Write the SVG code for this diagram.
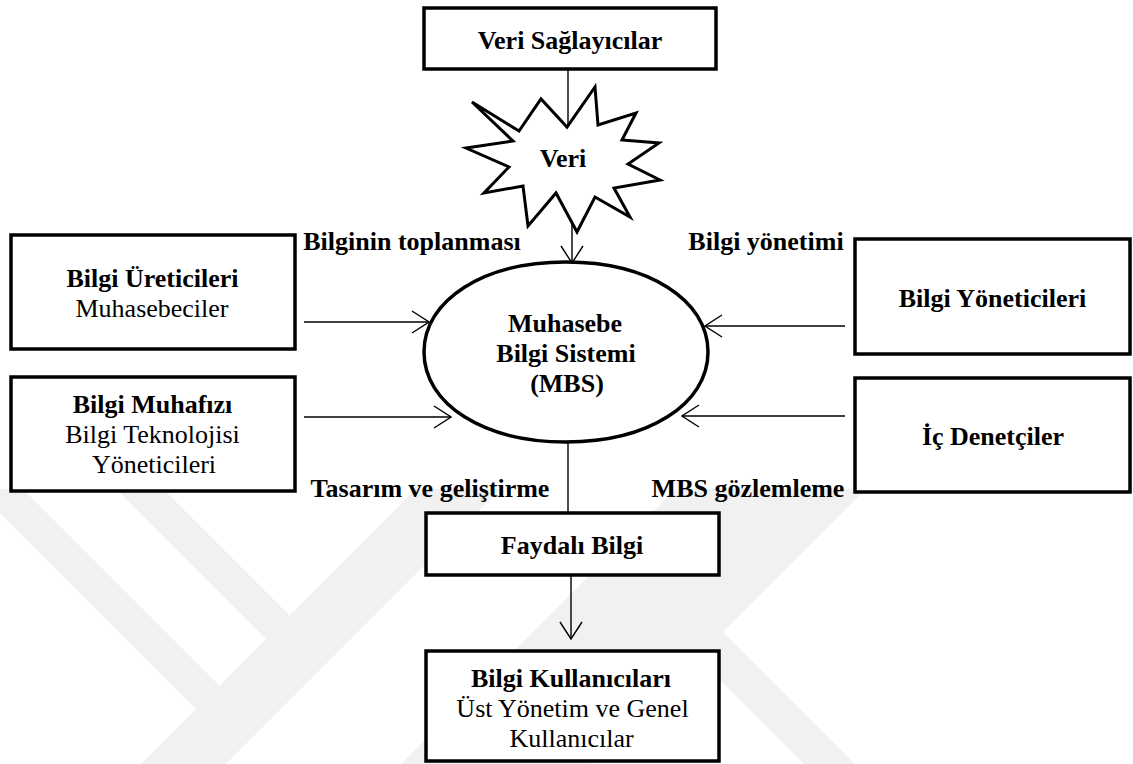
<svg xmlns="http://www.w3.org/2000/svg" width="1133" height="764" viewBox="0 0 1133 764">
  <defs>
    <style>
      .box { fill: #ffffff; stroke: #000000; stroke-width: 3.5; }
      .wire { fill: none; stroke: #000000; stroke-width: 1.4; }
      text { font-family: 'Liberation Serif', 'DejaVu Serif', serif; font-size: 26px; fill: #000000; text-anchor: middle; }
      .b { font-weight: bold; }
      .mark { fill: #f1f1f1; }
    </style>
    <marker id="vee" viewBox="-1 -12 19 24" refX="17" refY="0" markerWidth="19" markerHeight="24" markerUnits="userSpaceOnUse" orient="auto">
      <path d="M0,-11 L17,0 L0,11" fill="none" stroke="#000000" stroke-width="1.4"/>
    </marker>
    <clipPath id="lowerHalf">
      <rect x="0" y="489" width="1133" height="275"/>
    </clipPath>
  </defs>

  <rect x="0" y="0" width="1133" height="764" fill="#ffffff"/>

  <!-- faint background emblem -->
  <g id="emblem" clip-path="url(#lowerHalf)">
    <polygon class="mark" points="-30,436 241,707 217.5,730.5 -30,483"/>
    <polygon class="mark" points="100,426 311,637 287.5,660.5 100,473"/>
    <polygon class="mark" points="425,480 510,480 220,770 135,770"/>
    <polygon class="mark" points="685,480 875,480 585,770 395,770"/>
    <polygon class="mark" points="660,569 870,779 819,779 640,600"/>
  </g>

  <!-- connectors -->
  <g id="connectors">
    <line class="wire" x1="568" y1="70" x2="568" y2="140"/>
    <line class="wire" x1="572" y1="195" x2="572" y2="263" marker-end="url(#vee)"/>
    <line class="wire" x1="304" y1="322" x2="429" y2="322" marker-end="url(#vee)"/>
    <line class="wire" x1="304" y1="417" x2="451" y2="417" marker-end="url(#vee)"/>
    <line class="wire" x1="845" y1="326" x2="705" y2="326" marker-end="url(#vee)"/>
    <line class="wire" x1="845" y1="416" x2="682" y2="416" marker-end="url(#vee)"/>
    <line class="wire" x1="568" y1="440" x2="568" y2="513"/>
    <line class="wire" x1="571" y1="575" x2="571" y2="639" marker-end="url(#vee)"/>
  </g>

  <!-- edge labels -->
  <g id="labels">
    <text class="b" x="412" y="250">Bilginin toplanması</text>
    <text class="b" x="766" y="250">Bilgi yönetimi</text>
    <text class="b" x="430" y="497">Tasarım ve geliştirme</text>
    <text class="b" x="748" y="497">MBS gözlemleme</text>
  </g>

  <g id="veri-saglayicilar">
    <rect class="box" x="424" y="8" width="292" height="61"/>
    <text class="b" x="570" y="49">Veri Sağlayıcılar</text>
  </g>

  <g id="veri">
    <polygon fill="#ffffff" stroke="#000000" stroke-width="3" stroke-linejoin="miter"
      points="472,102 519,131 541,99 567,127 595,87 598,125 636,113 622,140 659,143 628,164 660,180 614,188 630,217 595,197 577,232 556,193 528,226 523,186 484,193 509,167 466,148 513,141"/>
    <text class="b" x="563" y="167">Veri</text>
  </g>

  <g id="bilgi-ureticileri">
    <rect class="box" x="11" y="235" width="284" height="114"/>
    <text class="b" x="152.5" y="287">Bilgi Üreticileri</text>
    <text x="152" y="317">Muhasebeciler</text>
  </g>

  <g id="bilgi-muhafizi">
    <rect class="box" x="11" y="377" width="284" height="114"/>
    <text class="b" x="152.5" y="413">Bilgi Muhafızı</text>
    <text x="152.5" y="443">Bilgi Teknolojisi</text>
    <text x="154" y="473">Yöneticileri</text>
  </g>

  <g id="mbs">
    <path fill="#ffffff" stroke="#000000" stroke-width="3.5"
      d="M424,352 C424,299.8 483.6,262 566,262 C648.4,262 708,299.8 708,352 C708,404.2 648.4,442 566,442 C483.6,442 424,404.2 424,352 Z"/>
    <text class="b" x="565" y="332">Muhasebe</text>
    <text class="b" x="566" y="362">Bilgi Sistemi</text>
    <text class="b" x="567" y="392">(MBS)</text>
  </g>

  <g id="bilgi-yoneticileri">
    <rect class="box" x="855" y="239" width="275" height="115"/>
    <text class="b" x="992.5" y="307">Bilgi Yöneticileri</text>
  </g>

  <g id="ic-denetciler">
    <rect class="box" x="855" y="378" width="275" height="114"/>
    <text class="b" x="993" y="445">İç Denetçiler</text>
  </g>

  <g id="faydali-bilgi">
    <rect class="box" x="426" y="513" width="293" height="62"/>
    <text class="b" x="572" y="554">Faydalı Bilgi</text>
  </g>

  <g id="bilgi-kullanicilari">
    <rect class="box" x="426" y="651" width="293" height="110"/>
    <text class="b" x="571" y="687">Bilgi Kullanıcıları</text>
    <text x="572.5" y="717">Üst Yönetim ve Genel</text>
    <text x="571.5" y="747">Kullanıcılar</text>
  </g>
</svg>
